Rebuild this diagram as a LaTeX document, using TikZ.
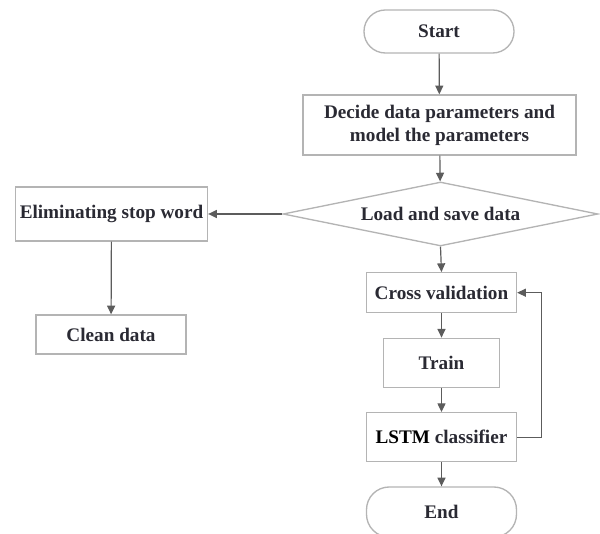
\documentclass[tikz,border=0pt]{standalone}
\usepackage{fontspec}
\setmainfont{Liberation Serif}
\usetikzlibrary{shapes.geometric,arrows.meta}
\definecolor{boxline}{HTML}{B4B4B4}
\definecolor{arrline}{HTML}{5C5C5C}
\definecolor{txt}{HTML}{2A2A33}
\begin{document}
\begin{tikzpicture}[x=0.75pt,y=-0.75pt,
  box/.style={draw=boxline,line width=1pt,fill=white,text=txt,
    font=\fontsize{14.4}{17.3}\selectfont\bfseries,inner sep=0pt,align=center},
  flow/.style={draw=arrline,line width=0.9pt,-{Triangle[width=6pt,length=6.5pt]}}]
\useasboundingbox (0,0) rectangle (600,534);
\node[box,minimum width=112.5pt,minimum height=32.25pt,rounded corners=16pt] (start) at (439,31.5) {Start};
\node[box,minimum width=204.75pt,minimum height=45pt] (decide) at (439.5,125) {Decide data parameters and\\model the parameters};
\node[box,diamond,shape aspect=4.9,minimum width=236.25pt,minimum height=48pt] (load) at (440.5,214) {Load and save data};
\node[box,minimum width=144pt,minimum height=40.3pt] (elim) at (111.5,214) {Eliminating stop word};
\node[box,minimum width=112.5pt,minimum height=29.25pt] (clean) at (111,334.5) {Clean data};
\node[box,minimum width=112.5pt,minimum height=30pt] (cv) at (441.5,292.7) {Cross validation};
\node[box,minimum width=87.4pt,minimum height=36.75pt] (train) at (441.5,362.8) {Train};
\node[box,minimum width=112.5pt,minimum height=36.75pt] (lstm) at (441.5,437.2) {\textcolor{black}{LSTM} classifier};
\node[box,minimum width=112.5pt,minimum height=37.5pt,rounded corners=17pt] (end) at (441.5,512) {End};
\coordinate (fb) at (541.5,437.2);
\draw[flow] (start) -- (decide);
\draw[flow] (decide) -- (load);
\draw[flow] (load.west) -- (elim.east);
\draw[flow] (elim) -- (clean);
\draw[flow] (load.south) -- (cv.north);
\draw[flow] (cv) -- (train);
\draw[flow] (train) -- (lstm);
\draw[flow] (lstm) -- (end);
\draw[flow] (lstm.east) -- (fb) |- (cv.east);
\end{tikzpicture}
\end{document}
